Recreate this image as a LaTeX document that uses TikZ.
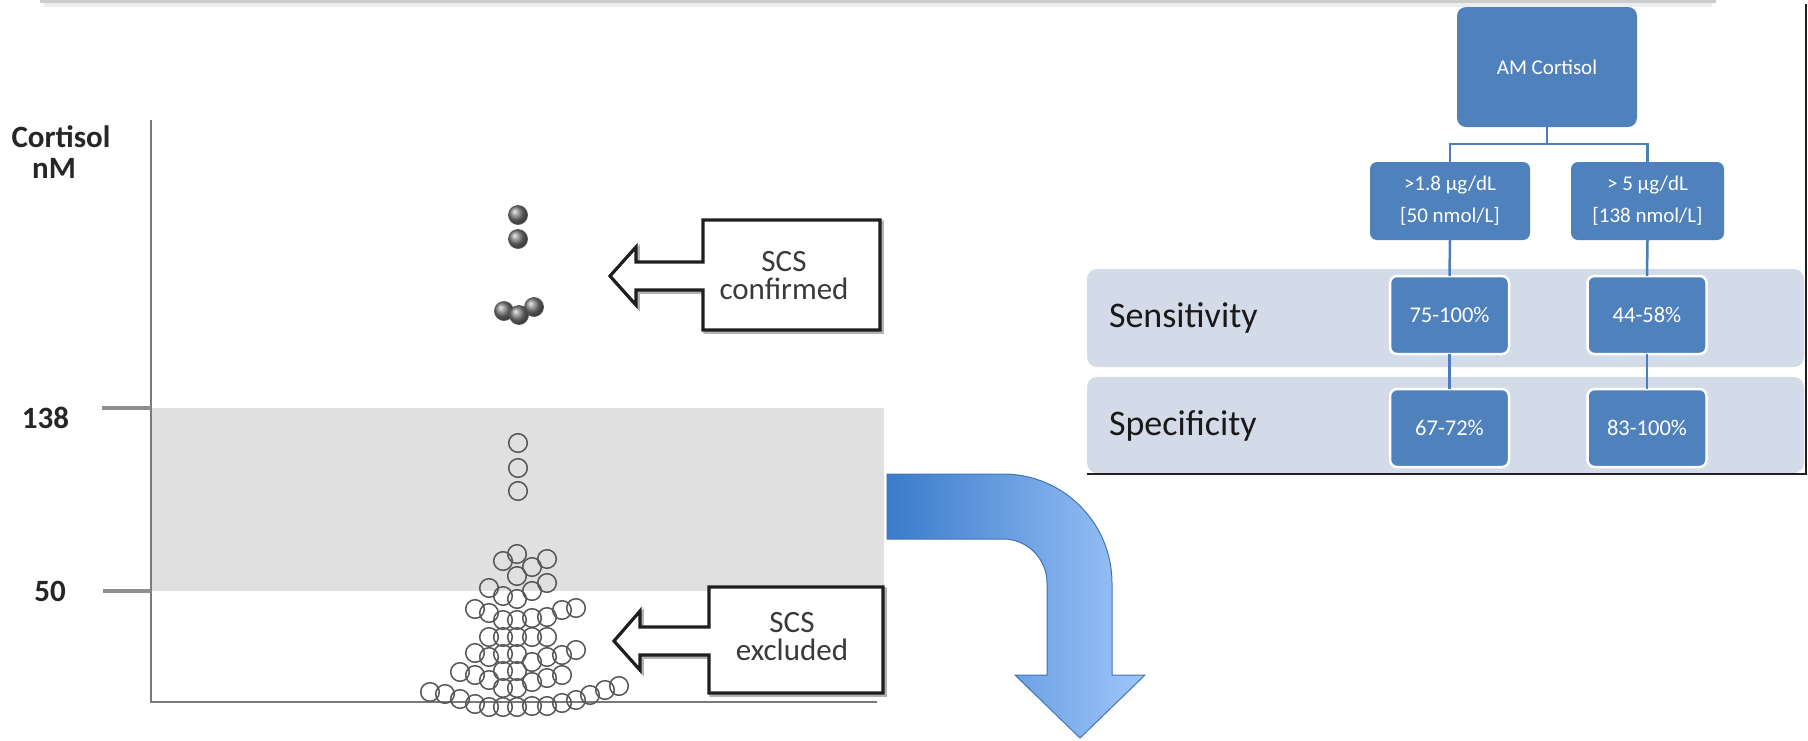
\documentclass[tikz,border=0pt]{standalone}
\usepackage{fontspec}
\setmainfont{Carlito}
\usetikzlibrary{calc}

\definecolor{boxblue}{HTML}{4F81BD}
\definecolor{bandgrey}{HTML}{D3DBE9}
\definecolor{linkblue}{HTML}{4A7EBB}
\definecolor{arrowdark}{HTML}{3A7BCB}
\definecolor{arrowlight}{HTML}{A0C6FA}
\definecolor{arrowedge}{HTML}{3F74B6}
\definecolor{zone}{HTML}{E0E0E0}
\definecolor{axisgrey}{HTML}{7A7A7A}
\definecolor{inkgrey}{HTML}{3A3A3A}

\begin{document}
\begin{tikzpicture}[x=1pt,y=-1pt,
  every node/.style={inner sep=0pt, outer sep=0pt},
  axisline/.style={draw=axisgrey, line width=2pt},
  tickline/.style={draw=axisgrey!85, line width=3.5pt},
  axislabel/.style={text=black!85, font=\bfseries\fontsize{31}{34}\selectfont},
  openpt/.style={draw=black!66, line width=1.5pt},
  filledpt/.style={ball color=black!50, draw=black!65, line width=0.8pt},
  callout/.style={draw=black!88, line width=3.2pt, line join=miter, fill=white},
  calloutshadow/.style={draw=black!30, line width=3.5pt, line join=miter},
  callouttext/.style={text=inkgrey, align=center,
    font=\fontsize{31}{28}\selectfont},
  topbox/.style={fill=boxblue, rounded corners=9pt, text=white,
    font=\fontsize{21}{25}\selectfont},
  thrbox/.style={fill=boxblue, rounded corners=7pt, text=white, align=center,
    font=\fontsize{21}{32}\selectfont, minimum height=78pt},
  valbox/.style={fill=boxblue, draw=white, line width=2.5pt, rounded corners=7pt,
    text=white, font=\fontsize{22.5}{26}\selectfont,
    minimum width=119pt, minimum height=78pt},
  band/.style={fill=bandgrey, rounded corners=10pt},
  bandlabel/.style={text=black!90, font=\fontsize{36}{40}\selectfont},
  link/.style={draw=linkblue, line width=2.5pt},
  bigarrow/.style={left color=arrowdark, right color=arrowlight,
    draw=arrowedge, line width=1pt, line join=miter}]

\useasboundingbox (0,0) rectangle (1808,740);

% faint panel edge along the top
\draw[black!7, line width=4pt] (44,5) -- (1712,5);
\draw[black!20, line width=2.2pt] (40,1.5) -- (1716,1.5);

% ---------------- cortisol scatter plot ----------------
\fill[zone] (151,408) rectangle (884,591);
\draw[axisline] (151,120) -- (151,702) -- (877,702);
\draw[tickline] (102,408) -- (151,408);
\draw[tickline] (103,591) -- (151,591);

\node[axislabel, anchor=base] (ylab1) at (61,147) {Cortisol};
\node[axislabel, anchor=base] (ylab2) at (54,178) {nM};
\node[axislabel, anchor=base] (v138) at (45.5,428) {138};
\node[axislabel, anchor=base] (v50) at (50,601) {50};

% patients with confirmed insufficiency
\foreach \px/\py in {518/215, 518/239, 504/311, 534/307, 519/315}
  \shadedraw[filledpt] (\px,\py) circle[radius=9.5pt];

% values in the grey zone
\foreach \px/\py in {518/443, 518/468, 518/491,
  517/554, 503/561, 547/559, 532/567, 517/576, 547/583, 532/591,
  489/588, 503/596, 517/599}
  \draw[openpt] (\px,\py) circle[radius=9.3pt];

% values below 50 nM
\foreach \px/\py in {430/692, 445/694, 460/672, 460/699,
  475/609, 475/653, 475/675, 475/704,
  489/613, 489/637, 489/657, 489/680, 489/707,
  503/620, 503/637, 503/654, 503/671, 503/688, 503/707,
  517/620, 517/637, 517/654, 517/671, 517/688, 517/707,
  532/618, 532/637, 532/662, 532/682, 532/706,
  547/617, 547/637, 547/657, 547/678, 547/706,
  562/610, 562/655, 562/675, 562/703,
  576/608, 576/650, 576/700,
  590/695, 605/690, 619/686}
  \draw[openpt] (\px,\py) circle[radius=9.3pt];

% callout: SCS confirmed
\draw[calloutshadow, shift={(2,2)}] (703,220) -- (880,220) -- (880,330) -- (703,330)
  -- (703,290) -- (636,290) -- (636,305) -- (610,276) -- (636,247) -- (636,262)
  -- (703,262) -- cycle;
\draw[callout] (703,220) -- (880,220) -- (880,330) -- (703,330)
  -- (703,290) -- (636,290) -- (636,305) -- (610,276) -- (636,247) -- (636,262)
  -- (703,262) -- cycle;
\node[callouttext] (conf) at (784,276) {SCS\\confirmed};

% callout: SCS excluded
\draw[calloutshadow, shift={(2,2)}] (709,587) -- (883,587) -- (883,693) -- (709,693)
  -- (709,655) -- (640,655) -- (640,670) -- (614,641) -- (640,611) -- (640,627)
  -- (709,627) -- cycle;
\draw[callout] (709,587) -- (883,587) -- (883,693) -- (709,693)
  -- (709,655) -- (640,655) -- (640,670) -- (614,641) -- (640,611) -- (640,627)
  -- (709,627) -- cycle;
\node[callouttext] (excl) at (792,637) {SCS\\excluded};

% bent arrow leading to the thresholds
\shadedraw[bigarrow] (887,474) -- (1003,474)
  .. controls (1063.2,474) and (1112,522.8) .. (1112,583)
  -- (1112,675) -- (1145,675) -- (1080,738) -- (1015,675) -- (1047,675)
  -- (1047,583)
  .. controls (1047,558.7) and (1027.3,539) .. (1003,539)
  -- (887,539) -- cycle;

% ---------------- decision table ----------------
\fill[band] (1087,269) rectangle (1804,367);
\fill[band] (1087,377) rectangle (1804,473);
\draw[black!88, line width=2pt] (1087,474) -- (1806,474) -- (1806,4);

\node[topbox, minimum width=180pt, minimum height=120pt] (am) at (1547,67) {AM Cortisol};
\node[thrbox, minimum width=160pt] (t1) at (1450,201) {>1.8 µg/dL\\{[}50 nmol/L{]}};
\node[thrbox, minimum width=153pt] (t2) at (1647.5,201) {> 5 µg/dL\\{[}138 nmol/L{]}};

\node[valbox] (s1) at (1449.5,315) {75-100\%};
\node[valbox] (s2) at (1647,315) {44-58\%};
\node[valbox] (p1) at (1449.5,428) {67-72\%};
\node[valbox] (p2) at (1647,428) {83-100\%};

\draw[link] (am.south) -- ++(0,17) -| (t1.north);
\draw[link] (am.south) -- ++(0,17) -| (t2.north);
\draw[link] (t1.south) -- (s1.north);
\draw[link] (t2.south) -- (s2.north);
\draw[link] (s1.south) -- (p1.north);
\draw[link] (s2.south) -- (p2.north);

\node[bandlabel, anchor=base west] (sens) at (1109,327) {Sensitivity};
\node[bandlabel, anchor=base west] (spec) at (1109,435) {Specificity};

\end{tikzpicture}
\end{document}
